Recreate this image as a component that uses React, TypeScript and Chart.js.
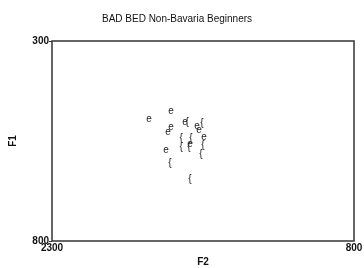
import React, { useEffect, useRef } from "react";
import { Chart, registerables } from "chart.js";

Chart.register(...registerables);

const chartTitle = "BAD BED Non-Bavaria Beginners";
const xTitle = "F2";
const yTitle = "F1";
const xTicks = [2300, 800];
const yTicks = [300, 800];
const glyphs = ["e", "{"];

// series "e": F2 (x) and F1 (y)
const eF2 = [1818, 1709, 1639, 1709, 1724, 1580, 1570, 1545, 1615, 1734];
const eF1 = [495, 475, 502, 515, 527, 512, 522, 540, 557, 572];
// series "{": F2 (x) and F1 (y)
const bF2 = [1629, 1555, 1659, 1610, 1659, 1620, 1550, 1560, 1714, 1615];
const bF1 = [502, 505, 542, 542, 565, 565, 560, 582, 605, 645];

const FONT = "'Liberation Sans', Arial, Helvetica, sans-serif";
const LINE = "#333333";

const glyphPlugin = {
  id: "glyphs",
  afterDatasetsDraw(chart: any) {
    const ctx = chart.ctx;
    ctx.save();
    ctx.font = `10px ${FONT}`;
    ctx.fillStyle = "#222222";
    ctx.textAlign = "center";
    ctx.textBaseline = "middle";
    chart.data.datasets.forEach((ds: any, i: number) => {
      const meta = chart.getDatasetMeta(i);
      meta.data.forEach((pt: any) => ctx.fillText(glyphs[i], pt.x, pt.y));
    });
    ctx.restore();
  },
};

const framePlugin = {
  id: "frame",
  afterDraw(chart: any) {
    const { left, top, right, bottom } = chart.chartArea;
    const ctx = chart.ctx;
    ctx.save();
    ctx.strokeStyle = LINE;
    ctx.lineWidth = 1.5;
    ctx.strokeRect(left, top, right - left, bottom - top);
    ctx.restore();
  },
};

export default function App() {
  const ref = useRef<HTMLCanvasElement | null>(null);
  useEffect(() => {
    if (!ref.current) return;
    const chart = new Chart(ref.current, {
      type: "scatter",
      data: {
        datasets: [
          { label: glyphs[0], data: eF2.map((x, i) => ({ x, y: eF1[i] })), pointRadius: 0 },
          { label: glyphs[1], data: bF2.map((x, i) => ({ x, y: bF1[i] })), pointRadius: 0 },
        ],
      },
      options: {
        animation: false,
        responsive: false,
        events: [],
        layout: { padding: { left: 0, right: 10, top: 0, bottom: 0 } },
        plugins: {
          legend: { display: false },
          tooltip: { enabled: false },
          title: {
            display: true,
            text: chartTitle,
            color: "#111111",
            font: { family: FONT, size: 10, weight: "normal", lineHeight: 1.2 },
            padding: { top: 13, bottom: 16 },
          },
        },
        scales: {
          x: {
            type: "linear",
            min: 800,
            max: 2300,
            reverse: true,
            afterBuildTicks: (s: any) => {
              s.ticks = xTicks.map((v) => ({ value: v }));
            },
            afterFit: (s: any) => {
              s.height = 27;
            },
            border: { display: false },
            grid: { display: true, drawOnChartArea: false, drawTicks: false, tickLength: 0 },
            ticks: {
              color: "#111111",
              font: { family: FONT, size: 10, weight: "bold" },
              padding: 1,
              maxRotation: 0,
              autoSkip: false,
              callback: (v: any) => String(v),
            },
            title: {
              display: true,
              text: xTitle,
              color: "#111111",
              font: { family: FONT, size: 10, weight: "bold", lineHeight: 1.2 },
              padding: 0,
            },
          },
          y: {
            type: "linear",
            min: 300,
            max: 800,
            reverse: true,
            afterBuildTicks: (s: any) => {
              s.ticks = yTicks.map((v) => ({ value: v }));
            },
            afterFit: (s: any) => {
              s.width = 52;
            },
            border: { display: false },
            grid: { display: true, drawOnChartArea: false, drawTicks: true, tickLength: 3, color: LINE, lineWidth: 1 },
            ticks: {
              color: "#111111",
              font: { family: FONT, size: 10, weight: "bold" },
              padding: 0,
              autoSkip: false,
              callback: (v: any) => String(v),
            },
            title: {
              display: true,
              text: yTitle,
              color: "#111111",
              font: { family: FONT, size: 10, weight: "bold", lineHeight: 1.2 },
              padding: { top: 7, bottom: 0 },
            },
          },
        },
      },
      plugins: [glyphPlugin, framePlugin],
    } as any);
    return () => chart.destroy();
  }, []);

  return (
    <div style={{ position: "absolute", left: 0, top: 0, width: 364, height: 268, background: "#fff" }}>
      <canvas ref={ref} width={364} height={268} style={{ width: 364, height: 268, display: "block" }} />
    </div>
  );
}
